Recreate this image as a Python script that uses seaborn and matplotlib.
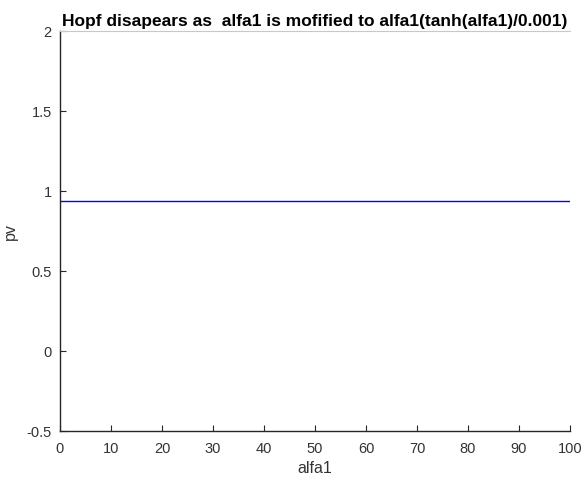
import matplotlib
matplotlib.use("Agg")
import matplotlib.pyplot as plt
import seaborn as sns
import pandas as pd

# Equilibrium branch: pv stays flat across the alfa1 sweep
alfa1 = [0, 25, 50, 75, 100]
pv = [0.94, 0.94, 0.94, 0.94, 0.94]

x_ticks = [0, 10, 20, 30, 40, 50, 60, 70, 80, 90, 100]
y_ticks = [-0.5, 0, 0.5, 1, 1.5, 2]
y_labels = ["-0.5", "0", "0.5", "1", "1.5", "2"]

sns.set_theme(style="white")
plt.rcParams["font.family"] = ["Liberation Sans", "DejaVu Sans"]

df = pd.DataFrame({"alfa1": alfa1, "pv": pv})

fig = plt.figure(figsize=(5.81, 4.81), dpi=100)
ax = fig.add_axes([60 / 581, 49 / 481, 510 / 581, 400 / 481])

sns.lineplot(data=df, x="alfa1", y="pv", ax=ax, color="#0000ff", linewidth=1.0)

ax.set_xlim(0, 100)
ax.set_ylim(-0.5, 2)
ax.set_xticks(x_ticks)
ax.set_xticklabels([str(t) for t in x_ticks])
ax.set_yticks(y_ticks)
ax.set_yticklabels(y_labels)

axis_color = "#262626"
text_color = "#333333"
for side in ["left", "bottom"]:
    ax.spines[side].set_color(axis_color)
    ax.spines[side].set_linewidth(1.0)
ax.spines["top"].set_color("#c8c8c8")
ax.spines["top"].set_linewidth(0.8)
ax.spines["right"].set_visible(False)

ax.tick_params(axis="both", direction="in", length=4, width=0.8,
               colors=axis_color, labelcolor=text_color, labelsize=10.5,
               bottom=True, left=True, top=False, right=False)
ax.tick_params(axis="x", pad=7)
ax.tick_params(axis="y", pad=6)

ax.set_xlabel("alfa1", fontsize=11.5, color=text_color, labelpad=4)
ax.set_ylabel("pv", fontsize=11.5, color=text_color, labelpad=6)
ax.set_title("Hopf disapears as  alfa1 is mofified to alfa1(tanh(alfa1)/0.001)",
             fontsize=12.5, fontweight="bold", color="black", pad=4)

fig.savefig("out.png", dpi=100, facecolor="white")
